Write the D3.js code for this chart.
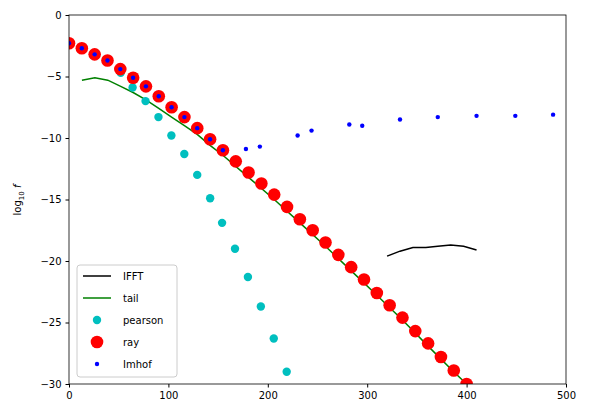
<!DOCTYPE html><html><head><script src="https://cdn.jsdelivr.net/npm/d3@7"></script>
<style>body{margin:0;background:#fff}text{font-family:"DejaVu Sans",sans-serif}</style></head><body><svg id="c" width="589" height="418"></svg>
<script>
const rayX=d3.range(32).map(i=>i*400/31);
const rayY=[-2.3,-2.7,-3.2,-3.7,-4.4,-5.1,-5.8,-6.6,-7.5,-8.3,-9.2,-10.1,-11.0,-11.9,-12.8,-13.7,-14.6,-15.6,-16.6,-17.5,-18.5,-19.5,-20.5,-21.5,-22.6,-23.6,-24.6,-25.7,-26.7,-27.8,-28.9,-30.0];
const imhofX=[0,12.9,25.8,38.7,51.6,64.5,77.4,90.3,103.2,116.1,129,141.9,154.8,178,192,230,244,282,295,333,371,410,449,487];
const imhofY=[-2.3,-2.7,-3.2,-3.7,-4.4,-5.1,-5.8,-6.6,-7.5,-8.3,-9.2,-10.1,-11.0,-10.9,-10.7,-9.8,-9.4,-8.9,-9.0,-8.5,-8.3,-8.2,-8.2,-8.1];
const pearX=[0,12.9,25.8,38.7,52,64,77,90,103,116,129,142,154,167,180,193,206,219];
const pearY=[-2.3,-2.7,-3.2,-3.8,-4.7,-5.9,-7.0,-8.3,-9.8,-11.3,-13.0,-14.9,-16.9,-19.0,-21.3,-23.7,-26.3,-29.0];
const tailX=[13,26,39,52,64.5,77.4,90.3,103.2,116.1,129,141.9,154.8,180.6,206.5,232.3,258,284,310,335.5,361,387,400];
const tailY=[-5.3,-5.1,-5.3,-5.8,-6.3,-6.9,-7.6,-8.3,-9.0,-9.7,-10.6,-11.4,-13.2,-15.0,-16.9,-18.8,-20.8,-22.8,-24.8,-26.9,-29.0,-30.0];
const ifftX=[320,333,346,359,371,384,397,410];
const ifftY=[-19.6,-19.2,-18.9,-18.9,-18.8,-18.7,-18.8,-19.1];
const xTicks=[0,100,200,300,400,500], yTicks=[0,-5,-10,-15,-20,-25,-30];
const svg=d3.select("#c");
const x=d3.scaleLinear().domain([0,500]).range([69,566]);
const y=d3.scaleLinear().domain([-30,0]).range([384,15]);
svg.append("defs").append("clipPath").attr("id","cl").append("rect").attr("x",69).attr("y",15).attr("width",497).attr("height",369);
const g=svg.append("g").attr("clip-path","url(#cl)");
const line=d3.line().x(d=>x(d[0])).y(d=>y(d[1]));
g.append("path").attr("d",line(ifftX.map((v,i)=>[v,ifftY[i]]))).attr("fill","none").attr("stroke","#000").attr("stroke-width",1.5);
g.append("path").attr("d",line(tailX.map((v,i)=>[v,tailY[i]]))).attr("fill","none").attr("stroke","green").attr("stroke-width",1.5);
g.selectAll(".p").data(pearX.map((v,i)=>[v,pearY[i]])).join("circle").attr("cx",d=>x(d[0])).attr("cy",d=>y(d[1])).attr("r",4.2).attr("fill","#00bfbf");
g.selectAll(".r").data(rayX.map((v,i)=>[v,rayY[i]])).join("circle").attr("cx",d=>x(d[0])).attr("cy",d=>y(d[1])).attr("r",6.3).attr("fill","red");
g.selectAll(".b").data(imhofX.map((v,i)=>[v,imhofY[i]])).join("circle").attr("cx",d=>x(d[0])).attr("cy",d=>y(d[1])).attr("r",2.2).attr("fill","blue");
svg.append("g").attr("transform","translate(0,384)").call(d3.axisBottom(x).tickValues(xTicks).tickSize(3.5).tickPadding(4)).attr("font-size",10);
svg.append("g").attr("transform","translate(69,0)").call(d3.axisLeft(y).tickValues(yTicks).tickSize(3.5).tickPadding(4).tickFormat(d=>d===0?"0":"\u2212"+Math.abs(d))).attr("font-size",10);
svg.selectAll(".domain").remove();
svg.append("rect").attr("x",69).attr("y",15).attr("width",497).attr("height",369).attr("fill","none").attr("stroke","#000").attr("stroke-width",0.8);
svg.selectAll(".tick text").attr("font-family","DejaVu Sans");
svg.append("text").attr("transform","translate(21,200) rotate(-90)").attr("text-anchor","middle").attr("font-size",10).html('log<tspan font-size="7" dy="3">10</tspan><tspan dy="-3" font-style="italic"> f</tspan>');
const lg=svg.append("g").attr("transform","translate(77,265)");
lg.append("rect").attr("width",100).attr("height",112).attr("rx",3).attr("fill","#fff").attr("fill-opacity",0.8).attr("stroke","#ccc");
const items=[["IFFT","line","#000"],["tail","line","green"],["pearson","dot","#00bfbf",4.2],["ray","dot","red",6.3],["Imhof","dot","blue",2.2]];
items.forEach((it,i)=>{const yy=11+i*22;
 if(it[1]=="line")lg.append("line").attr("x1",6).attr("x2",34).attr("y1",yy).attr("y2",yy).attr("stroke",it[2]).attr("stroke-width",1.5);
 else lg.append("circle").attr("cx",20).attr("cy",yy).attr("r",it[3]).attr("fill",it[2]);
 lg.append("text").attr("x",46).attr("y",yy+4).attr("font-size",10).text(it[0]);});
</script></body></html>
